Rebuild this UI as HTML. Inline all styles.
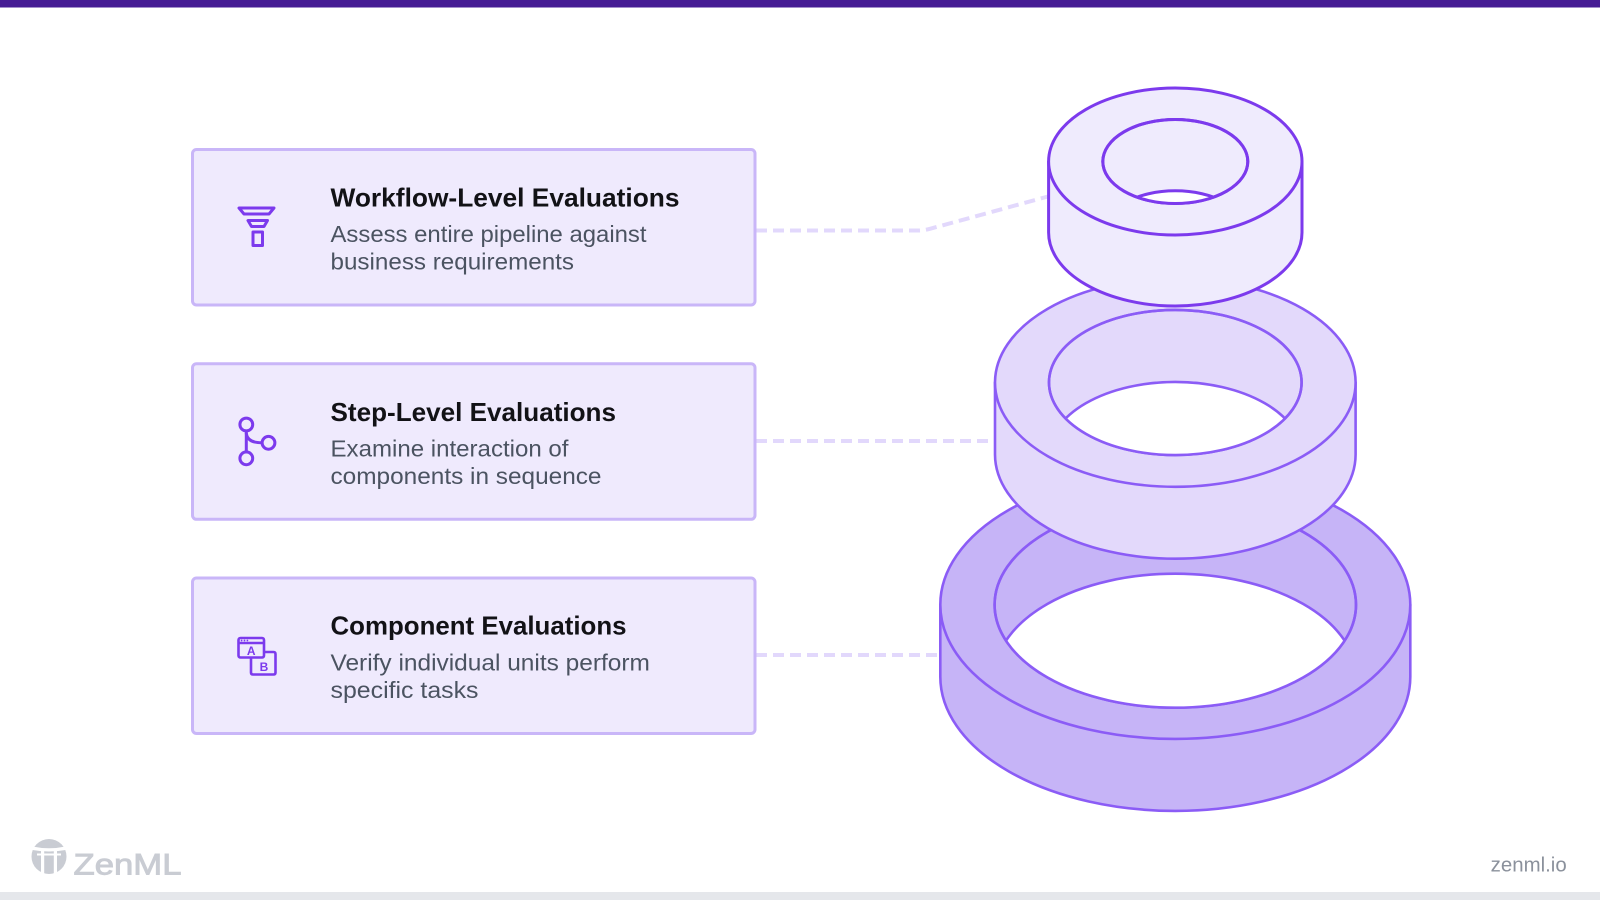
<!DOCTYPE html>
<html>
<head>
<meta charset="utf-8">
<style>
  html, body { margin: 0; padding: 0; background: #ffffff; }
  body { width: 1600px; height: 900px; overflow: hidden; }
  svg { display: block; }
  .title { font-family: "Liberation Sans", "DejaVu Sans", sans-serif; font-weight: 700; font-size: 26px; fill: #121216; }
  .desc { font-family: "Liberation Sans", "DejaVu Sans", sans-serif; font-weight: 400; font-size: 23.5px; fill: #4b5361; }
</style>
</head>
<body>
<svg width="1600" height="900" viewBox="0 0 1600 900" xmlns="http://www.w3.org/2000/svg">
  <defs>
    <clipPath id="h1"><ellipse cx="1175.3" cy="161.5" rx="72.5" ry="42"/></clipPath>
    <clipPath id="h2"><ellipse cx="1175.3" cy="382.5" rx="126.3" ry="72.6"/></clipPath>
    <clipPath id="h3"><ellipse cx="1175.3" cy="604.7" rx="180.7" ry="103"/></clipPath>
  </defs>

  <!-- background -->
  <rect x="0" y="0" width="1600" height="900" fill="#ffffff"/>
  <!-- top bar -->
  <rect x="0" y="0" width="1600" height="7.5" fill="#461c94"/>
  <!-- bottom bar -->
  <rect x="0" y="892" width="1600" height="8" fill="#e5e7eb"/>

  <!-- connectors -->
  <g fill="none" stroke="#e2d8fc" stroke-width="4" stroke-dasharray="11 6">
    <path d="M 756 230.5 L 918 230.5 Q 924 230.5 930 228.8 L 1048 196.5"/>
    <path d="M 756 441 L 995 441"/>
    <path d="M 756 655 L 940 655"/>
  </g>

  <!-- boxes -->
  <g fill="#efeafd" stroke="#c9b6f8" stroke-width="3">
    <rect x="192.5" y="149.5" width="562.5" height="155.5" rx="4"/>
    <rect x="192.5" y="363.8" width="562.5" height="155.5" rx="4"/>
    <rect x="192.5" y="578" width="562.5" height="155.5" rx="4"/>
  </g>

  <!-- icon 1: funnel/stack -->
  <g fill="none" stroke="#7c3aed" stroke-width="3" stroke-linejoin="round">
    <polygon points="239,208 274,208 269,214 244,214"/>
    <polygon points="248,220.5 267.5,220.5 264,226.5 251.5,226.5"/>
    <rect x="253" y="232" width="9.5" height="13.5"/>
  </g>

  <!-- icon 2: branch -->
  <g fill="none" stroke="#7c3aed" stroke-width="3" stroke-linecap="round">
    <circle cx="246.3" cy="424.5" r="6.4"/>
    <circle cx="246.3" cy="458.3" r="6.4"/>
    <circle cx="268.5" cy="442.8" r="6.4"/>
    <path d="M 246.3 431 L 246.3 452"/>
    <path d="M 246.3 433.5 Q 247.5 442.8 262 442.8"/>
  </g>

  <!-- icon 3: A/B windows -->
  <g fill="none" stroke="#7c3aed" stroke-width="2.6" stroke-linejoin="round">
    <rect x="238.5" y="638" width="25.5" height="19.5" rx="2"/>
    <path d="M 238.5 643 L 264 643"/>
    <path d="M 264 652 L 273.5 652 Q 275.5 652 275.5 654 L 275.5 672.5 Q 275.5 674.5 273.5 674.5 L 253 674.5 Q 251 674.5 251 672.5 L 251 657.5"/>
  </g>
  <g fill="#7c3aed">
    <circle cx="241.6" cy="640.5" r="0.9"/>
    <circle cx="244.5" cy="640.5" r="0.9"/>
    <circle cx="247.4" cy="640.5" r="0.9"/>
  </g>
  <text x="251.2" y="655" font-family="Liberation Sans, sans-serif" font-weight="700" font-size="12" fill="#7c3aed" text-anchor="middle">A</text>
  <text x="264" y="671" font-family="Liberation Sans, sans-serif" font-weight="700" font-size="12" fill="#7c3aed" text-anchor="middle">B</text>

  <!-- texts box 1 -->
  <text class="title" x="330.5" y="206.3" textLength="349" lengthAdjust="spacingAndGlyphs">Workflow-Level Evaluations</text>
  <text class="desc" x="330.5" y="241.8" textLength="316" lengthAdjust="spacingAndGlyphs">Assess entire pipeline against</text>
  <text class="desc" x="330.5" y="269.4" textLength="243.5" lengthAdjust="spacingAndGlyphs">business requirements</text>

  <!-- texts box 2 -->
  <text class="title" x="330.5" y="421" textLength="285.5" lengthAdjust="spacingAndGlyphs">Step-Level Evaluations</text>
  <text class="desc" x="330.5" y="456.3" textLength="238" lengthAdjust="spacingAndGlyphs">Examine interaction of</text>
  <text class="desc" x="330.5" y="483.8" textLength="271" lengthAdjust="spacingAndGlyphs">components in sequence</text>

  <!-- texts box 3 -->
  <text class="title" x="330.5" y="634.7" textLength="296" lengthAdjust="spacingAndGlyphs">Component Evaluations</text>
  <text class="desc" x="330.5" y="670.4" textLength="319.4" lengthAdjust="spacingAndGlyphs">Verify individual units perform</text>
  <text class="desc" x="330.5" y="698" textLength="148" lengthAdjust="spacingAndGlyphs">specific tasks</text>

  <!-- bottom ring -->
  <g stroke="#8b5cf6" stroke-width="2.6" stroke-linejoin="round">
    <path d="M 940.3 604.7 L 940.3 676.7 A 235 134.2 0 0 0 1410.3 676.7 L 1410.3 604.7 Z" fill="#c6b4f7"/>
    <ellipse cx="1175.3" cy="604.7" rx="235" ry="134.2" fill="#c6b4f7"/>
    <ellipse cx="1175.3" cy="604.7" rx="180.7" ry="103" fill="#c6b4f7"/>
    <ellipse cx="1175.3" cy="676.7" rx="180.7" ry="103" fill="#ffffff" clip-path="url(#h3)"/>
    <ellipse cx="1175.3" cy="604.7" rx="180.7" ry="103" fill="none"/>
  </g>

  <!-- middle ring -->
  <g stroke="#8b5cf6" stroke-width="2.6" stroke-linejoin="round">
    <path d="M 995 382.5 L 995 454.5 A 180.3 104.3 0 0 0 1355.6 454.5 L 1355.6 382.5 Z" fill="#e3d9fb"/>
    <ellipse cx="1175.3" cy="382.5" rx="180.3" ry="104.3" fill="#e3d9fb"/>
    <ellipse cx="1175.3" cy="382.5" rx="126.3" ry="72.6" fill="#e3d9fb"/>
    <ellipse cx="1175.3" cy="454.5" rx="126.3" ry="72.6" fill="#ffffff" clip-path="url(#h2)"/>
    <ellipse cx="1175.3" cy="382.5" rx="126.3" ry="72.6" fill="none"/>
  </g>

  <!-- top ring -->
  <g stroke="#7c3aed" stroke-width="3" stroke-linejoin="round">
    <path d="M 1048.6 161.5 L 1048.6 232.5 A 126.7 73.5 0 0 0 1302 232.5 L 1302 161.5 Z" fill="#efebfd"/>
    <ellipse cx="1175.3" cy="161.5" rx="126.7" ry="73.5" fill="#efebfd"/>
    <ellipse cx="1175.3" cy="161.5" rx="72.5" ry="42" fill="#efebfd"/>
    <ellipse cx="1175.3" cy="232.8" rx="72.5" ry="42" fill="#ffffff" clip-path="url(#h1)"/>
    <ellipse cx="1175.3" cy="161.5" rx="72.5" ry="42" fill="none"/>
  </g>

  <!-- footer logo -->
  <circle cx="49" cy="856.5" r="17.5" fill="#c9ccd3"/>
  <g fill="#ffffff">
    <path d="M 32.5 846.5 Q 49 850 65.5 846.5 L 65.5 850 Q 49 853 32.5 850 Z"/>
    <rect x="37" y="853.5" width="24" height="2"/>
    <rect x="41" y="850" width="3.2" height="24"/>
    <rect x="53.8" y="850" width="3.2" height="24"/>
  </g>
  <text x="73.5" y="874.5" font-family="Liberation Sans, sans-serif" font-size="30" font-weight="400" fill="#c9ccd3" stroke="#c9ccd3" stroke-width="0.9" textLength="108" lengthAdjust="spacingAndGlyphs">ZenML</text>

  <text x="1490.7" y="871.7" font-family="Liberation Sans, sans-serif" font-size="20" fill="#8b919c" textLength="76" lengthAdjust="spacingAndGlyphs">zenml.io</text>
</svg>
</body>
</html>
